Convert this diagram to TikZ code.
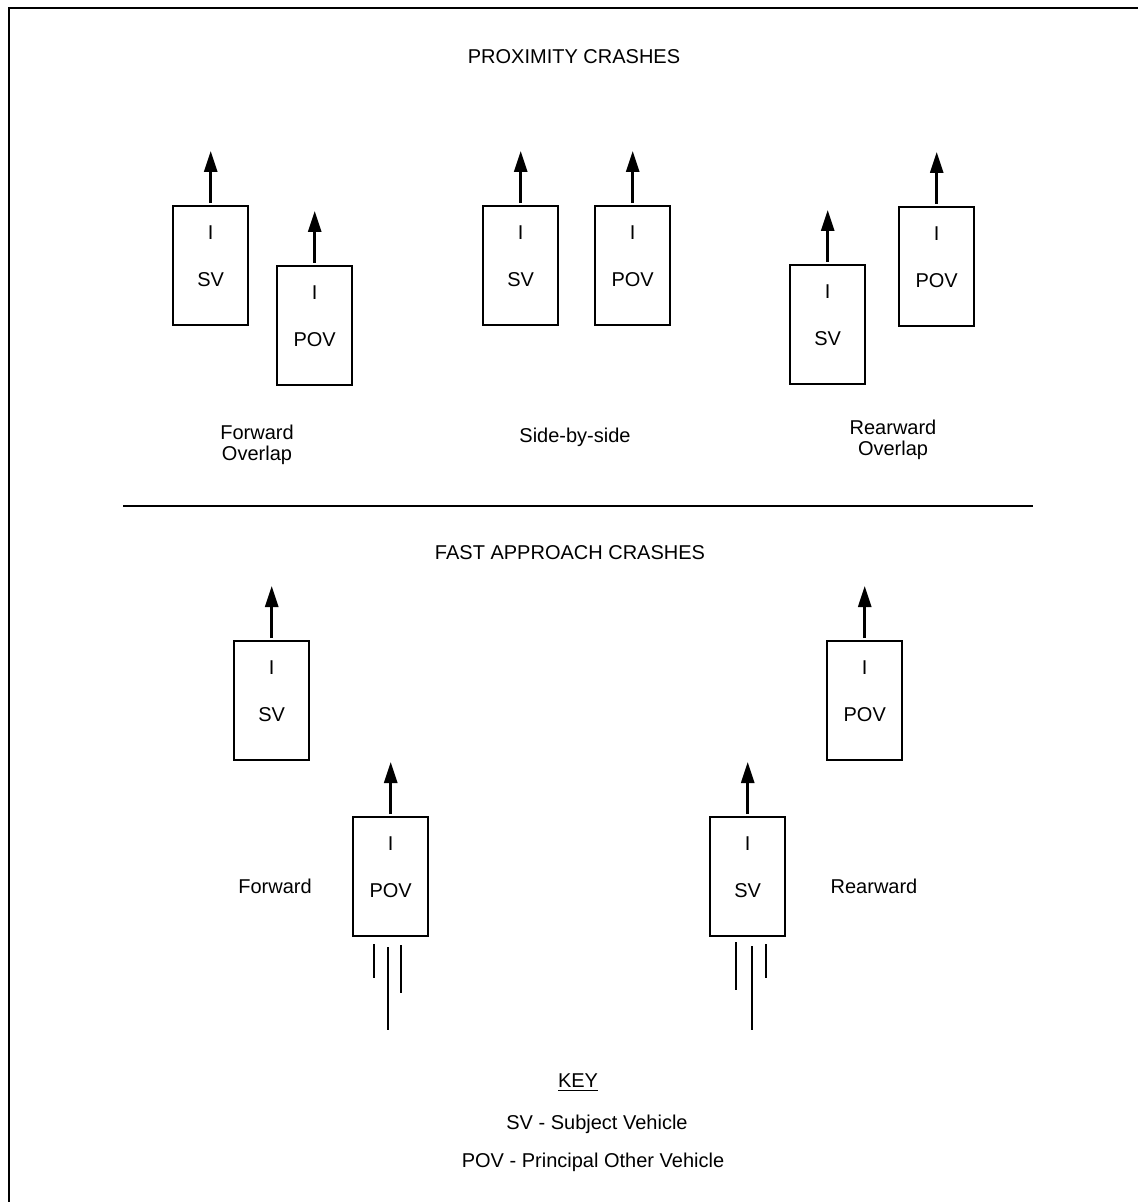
\documentclass[tikz,border=0pt]{standalone}
\usepackage{fontspec}
\setmainfont{Liberation Sans}
\usetikzlibrary{arrows.meta}
\begin{document}
\begin{tikzpicture}[x=0.5pt,y=-0.5pt,
  font=\fontsize{10pt}{10.5pt}\selectfont,
  veh/.style={draw,line width=1.2pt,minimum width=37.5pt,minimum height=59.5pt,inner sep=0pt,anchor=north west},
  mv/.style={-{Triangle[width=6.5pt,length=10.5pt]},line width=1.3pt,shorten <=1pt},
  trail/.style={line width=1.3pt},
  lbl/.style={inner sep=0pt,align=center}]
\useasboundingbox (0,0) rectangle (1138,1202);
% frame
\draw[line width=1.4pt] (9,1202) -- (9,8) -- (1138,8);
% titles
\node[lbl] (t1) at (574,57) {PROXIMITY CRASHES};
\node[lbl] (t2) at (570,553) {FAST APPROACH CRASHES};
\draw[line width=1.1pt] (123,506) -- (1033,506);
% helper macro for vehicle
\newcommand{\vehicle}[4]{%
  \node[veh] (#1) at (#2,#3) {};
  \node[lbl] (#1-i) at ([yshift=-14pt]#1.north) {I};
  \node[lbl] (#1-t) at ([yshift=-37.5pt]#1.north) {#4};
  \coordinate (#1-tip) at ([yshift=27pt]#1.north);
  \draw[mv] (#1.north) -- (#1-tip);
}
% Forward overlap
\vehicle{fosv}{172}{205}{SV}
\vehicle{fopov}{276}{265}{POV}
\node[lbl] (fo) at (257,445) {Forward\\Overlap};
% Side by side
\vehicle{sbsv}{482}{205}{SV}
\vehicle{sbpov}{594}{205}{POV}
\node[lbl] (sb) at (575,437) {Side-by-side};
% Rearward overlap
\vehicle{rosv}{789}{264}{SV}
\vehicle{ropov}{898}{206}{POV}
\node[lbl] (ro) at (893,440) {Rearward\\Overlap};
% Fast approach forward
\vehicle{fasv}{233}{640}{SV}
\vehicle{fapov}{352}{816}{POV}
\node[lbl] (faf) at (275,886) {Forward};
\draw[trail] (374,944) -- (374,978);
\draw[trail] (388,947) -- (388,1030);
\draw[trail] (401,945) -- (401,993);
% Fast approach rearward
\vehicle{rapov}{826}{640}{POV}
\vehicle{rasv}{709}{816}{SV}
\node[lbl] (rar) at (874,886) {Rearward};
\draw[trail] (736,942) -- (736,990);
\draw[trail] (752,946) -- (752,1030);
\draw[trail] (766,944) -- (766,978);
% Key
\node[lbl] (key) at (578,1083) {\underline{KEY}};
\node[lbl] (k1) at (597,1124) {SV - Subject Vehicle};
\node[lbl] (k2) at (593,1162) {POV - Principal Other Vehicle};
\end{tikzpicture}
\end{document}
